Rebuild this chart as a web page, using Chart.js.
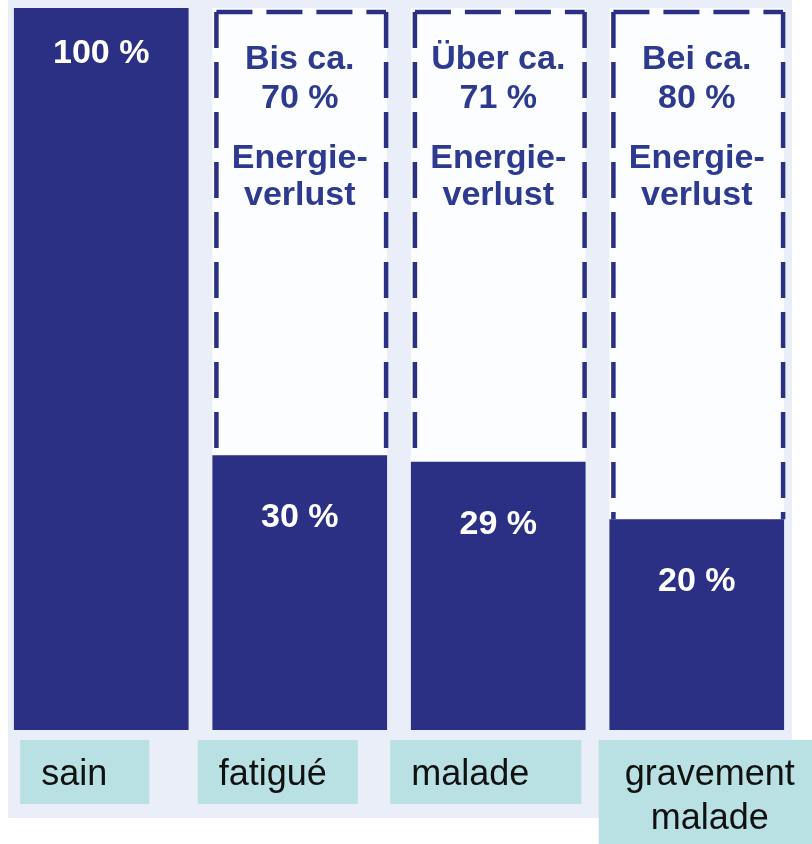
<!DOCTYPE html>
<html lang="fr">
<head>
<meta charset="utf-8">
<title>Energie</title>
<script src="https://cdn.jsdelivr.net/npm/chart.js@4.4.1/dist/chart.umd.min.js"></script>
<style>
  html, body { margin: 0; padding: 0; background: #ffffff; }
  #contenedor { width: 812px; height: 844px; }
</style>
</head>
<body>
<div id="contenedor"><canvas id="grafico" width="812" height="844"></canvas></div>
<script>
// Datos
const categorias = ['sain', 'fatigué', 'malade', ['gravement', 'malade']];
const energiaRestante = [100, 30, 29, 20];
const energiaPerdida = [0, 70, 71, 80];
const prefijoPerdida = ['', 'Bis ca.', 'Über ca.', 'Bei ca.'];
const textoVerlust = ['Energie-', 'verlust'];

// Estilo
const azul = '#2b3085';
const azulTexto = '#2d3a8f';
const fuente = '"Liberation Sans", Arial, sans-serif';

// Ajuste de las cajas de etiquetas (desplazamiento del texto y relleno)
const cajas = [
    { dx: -27, izq: 21, der: 42 },
    { dx: -27, izq: 21, der: 31 },
    { dx: -28, izq: 21, der: 52 },
    { dx: 13, izq: 26, der: 30 }
];

// Fondo claro del escaneo
const fondo = {
    id: 'fondo',
    beforeDraw(chart) {
        const { ctx, chartArea } = chart;
        ctx.save();
        ctx.fillStyle = '#ffffff';
        ctx.fillRect(0, 0, chart.width, chart.height);
        ctx.fillStyle = '#e9eef8';
        ctx.fillRect(chartArea.left + 6, 0, chartArea.right - chartArea.left - 10, chartArea.bottom + 88);
        ctx.restore();
    }
};

// Cajas punteadas y textos dentro de las barras
const rotulos = {
    id: 'rotulos',
    afterDatasetsDraw(chart) {
        const ctx = chart.ctx;
        const metaBase = chart.getDatasetMeta(0);
        const metaPerdida = chart.getDatasetMeta(1);
        ctx.save();
        ctx.textAlign = 'center';
        ctx.textBaseline = 'alphabetic';
        ctx.font = 'bold 34px ' + fuente;

        metaPerdida.data.forEach((el, i) => {
            if (!energiaPerdida[i]) return;
            const izq = el.x - el.width / 2 + 4;
            const der = el.x + el.width / 2 - 1;
            const arriba = el.y + 4;
            const abajo = el.base;
            ctx.strokeStyle = azul;
            ctx.lineWidth = 4.5;
            ctx.setLineDash([36, 14]);
            ctx.beginPath();
            ctx.moveTo(izq, arriba); ctx.lineTo(der, arriba);
            ctx.moveTo(izq, arriba); ctx.lineTo(izq, abajo);
            ctx.moveTo(der, arriba); ctx.lineTo(der, abajo);
            ctx.stroke();
            ctx.setLineDash([]);

            ctx.fillStyle = azulTexto;
            ctx.fillText(prefijoPerdida[i], el.x, el.y + 61);
            ctx.fillText(energiaPerdida[i] + ' %', el.x, el.y + 100);
            ctx.fillText(textoVerlust[0], el.x, el.y + 160);
            ctx.fillText(textoVerlust[1], el.x, el.y + 197);
        });

        ctx.fillStyle = '#ffffff';
        metaBase.data.forEach((el, i) => {
            const desplaza = energiaPerdida[i] ? 72 : 55;
            ctx.fillText(energiaRestante[i] + ' %', el.x, el.y + desplaza);
        });
        ctx.restore();
    },
    afterDraw(chart) {
        const { ctx, chartArea } = chart;
        const meta = chart.getDatasetMeta(0);
        ctx.save();
        ctx.font = '36px ' + fuente;
        ctx.textAlign = 'center';
        ctx.textBaseline = 'alphabetic';
        chart.data.labels.forEach((etiqueta, i) => {
            const lineas = Array.isArray(etiqueta) ? etiqueta : [etiqueta];
            const ancho = Math.max(...lineas.map(l => ctx.measureText(l).width));
            const c = cajas[i];
            const tx = meta.data[i].x + c.dx;
            const arriba = chartArea.bottom + 10;
            const alto = 64 + (lineas.length - 1) * 44;
            ctx.fillStyle = '#b9e0e3';
            ctx.fillRect(tx - ancho / 2 - c.izq, arriba, ancho + c.izq + c.der, alto);
            ctx.fillStyle = '#111111';
            lineas.forEach((l, j) => ctx.fillText(l, tx, arriba + 45 + j * 44));
        });
        ctx.restore();
    }
};

const ctx = document.getElementById('grafico').getContext('2d');
const grafico = new Chart(ctx, {
    type: 'bar',
    data: {
        labels: categorias,
        datasets: [
            {
                label: 'Energie',
                data: energiaRestante,
                backgroundColor: azul,
                base: -13,
                stack: 'energia'
            },
            {
                label: 'Energieverlust',
                data: energiaPerdida,
                backgroundColor: '#fcfdff',
                stack: 'energia'
            }
        ]
    },
    options: {
        responsive: false,
        animation: false,
        layout: { padding: { left: 2, right: 16, top: 8, bottom: 114 } },
        datasets: {
            bar: { categoryPercentage: 1, barPercentage: 0.88, borderWidth: 0 }
        },
        plugins: {
            legend: { display: false },
            tooltip: { enabled: false }
        },
        scales: {
            x: { display: false, stacked: true },
            y: { display: false, stacked: true, min: -13, max: 100 }
        }
    },
    plugins: [fondo, rotulos]
});
</script>
</body>
</html>
